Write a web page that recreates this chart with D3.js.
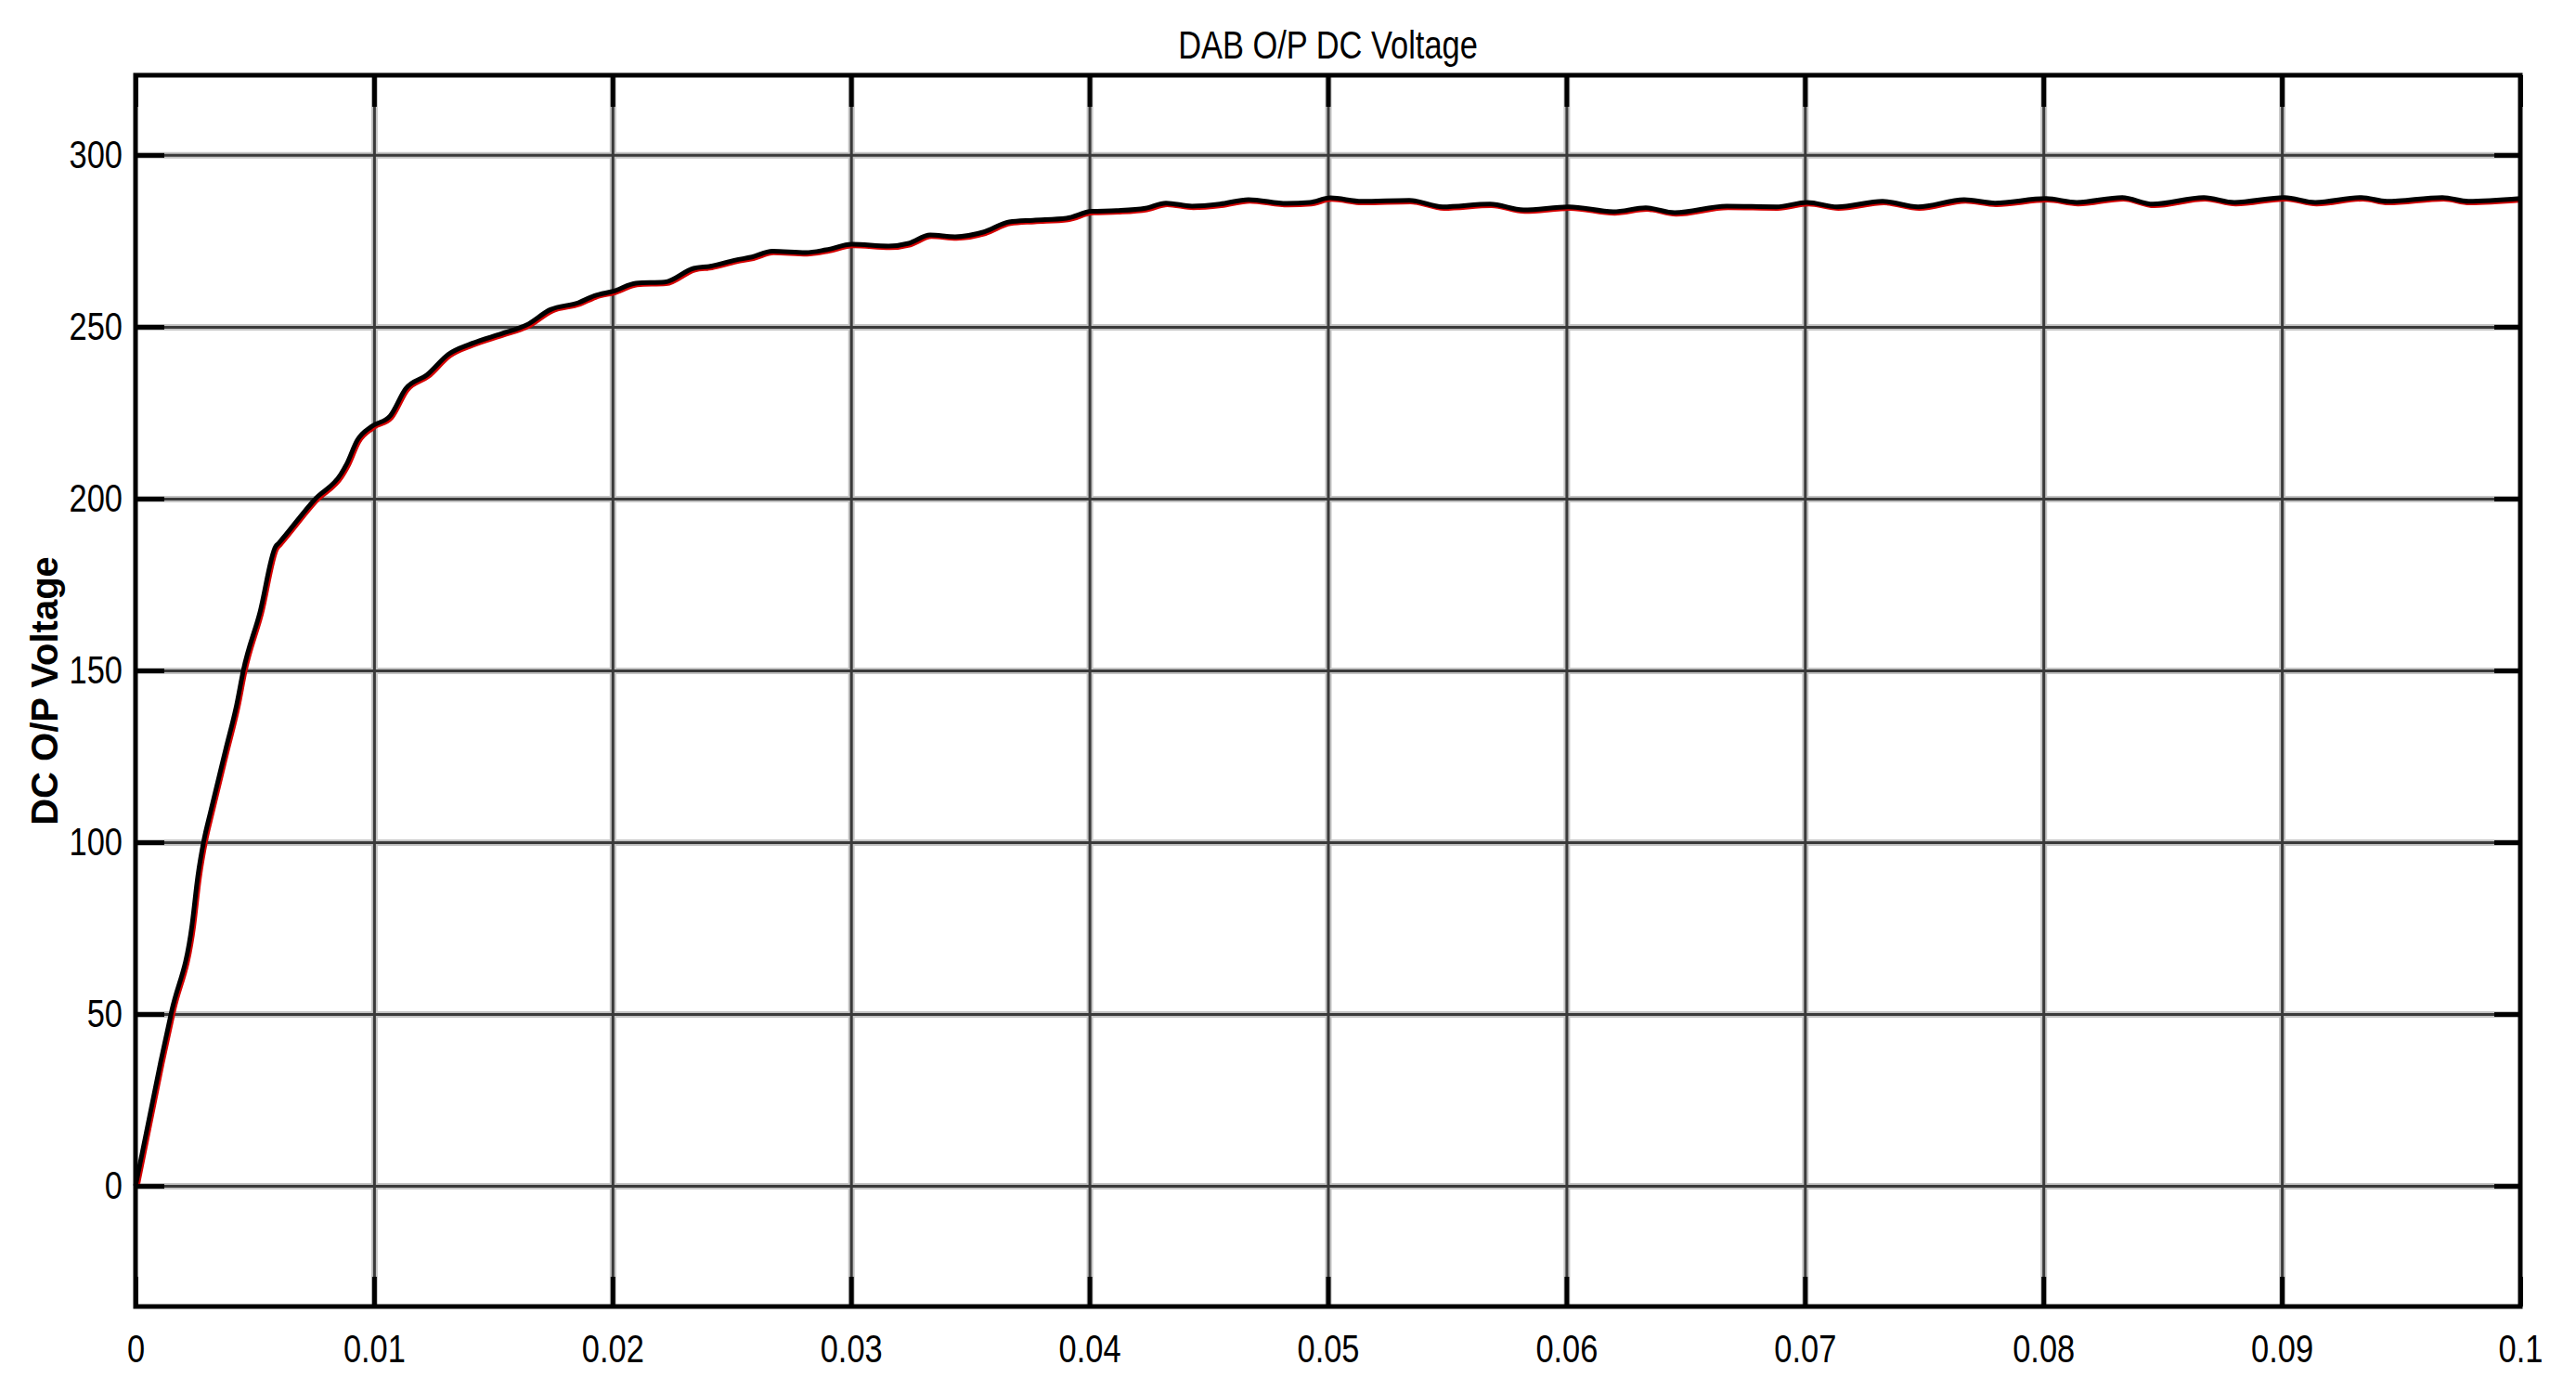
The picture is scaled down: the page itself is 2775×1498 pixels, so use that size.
<!DOCTYPE html>
<html>
<head>
<meta charset="utf-8">
<script src="https://cdn.jsdelivr.net/npm/d3@7.9.0/dist/d3.min.js"></script>
<style>
  html, body { margin: 0; padding: 0; background: #fff; }
  svg { display: block; }
  text { font-family: "Liberation Sans", Arial, sans-serif; }
</style>
</head>
<body>
<svg id="chart" width="2775" height="1498"></svg>
<script>
// time (s)
const timeS = [
  0, 0.00105, 0.00152, 0.00237, 0.00261, 0.00288, 0.00315, 0.00378, 0.00424, 0.00452,
  0.00522, 0.00587, 0.006, 0.00755, 0.0086, 0.00885, 0.0093, 0.0099, 0.01067, 0.01133,
  0.01222, 0.01312, 0.01405, 0.01534, 0.01639, 0.0174, 0.01857, 0.01923, 0.0201, 0.02098,
  0.02219, 0.0234, 0.0241, 0.02515, 0.02585, 0.0267, 0.0281, 0.02896, 0.03005, 0.03157,
  0.03243, 0.03332, 0.03437, 0.03558, 0.03663, 0.03764, 0.03904, 0.0401, 0.04114, 0.04235,
  0.04321, 0.0443, 0.04547, 0.04667, 0.04827, 0.04924, 0.0501, 0.05142, 0.05341, 0.05481,
  0.0568, 0.0582, 0.0601, 0.06197, 0.06333, 0.06454, 0.06672, 0.0688, 0.0701, 0.07135,
  0.07326, 0.07474, 0.07668, 0.07797, 0.08011, 0.0814, 0.0833, 0.08459, 0.08673, 0.08801,
  0.09011, 0.0914, 0.09334, 0.0944, 0.09673, 0.09782, 0.1
];

// DC output voltage at each time
const voltage = [
  0, 36, 51, 76, 90, 101, 109, 127, 140, 150,
  167, 186, 187, 200, 207, 210, 217, 221, 224, 232,
  236, 242, 245, 248, 250.5, 255, 257, 259, 260.5, 262.7,
  263, 267, 267.6, 269.4, 270.3, 272, 271.6, 272.4, 274, 273.5,
  274.3, 276.7, 276.2, 277.6, 280.5, 281, 281.6, 283.6, 283.8, 284.5,
  286, 285.1, 285.7, 287, 285.9, 286.2, 287.5, 286.5, 286.8, 284.9,
  285.7, 284, 284.9, 283.5, 284.6, 283.2, 285.1, 284.9, 286.2, 284.9,
  286.5, 284.9, 287, 286, 287.3, 286.2, 287.6, 285.7, 287.6, 286.2,
  287.6, 286.2, 287.6, 286.5, 287.6, 286.5, 287.3
];

const xTicks = [0, 0.01, 0.02, 0.03, 0.04, 0.05, 0.06, 0.07, 0.08, 0.09, 0.1];
const xTickLabels = ["0", "0.01", "0.02", "0.03", "0.04", "0.05", "0.06", "0.07", "0.08", "0.09", "0.1"];
const yTicks = [0, 50, 100, 150, 200, 250, 300];

const titleText = "DAB O/P DC Voltage";
const yLabelText = "DC O/P Voltage";

// no narrow face installed, so squeeze the regular one
const squeeze = 0.82;

const margin = { top: 81, right: 60, bottom: 91, left: 146 };
const W = 2775, H = 1498;
const w = W - margin.left - margin.right;
const h = H - margin.top - margin.bottom;

const svg = d3.select("#chart");
const g = svg.append("g").attr("transform", `translate(${margin.left},${margin.top})`);

const x = d3.scaleLinear().domain([0, 0.1]).range([0, w]);
const y = d3.scaleLinear().domain([-35.1, 323.2]).range([h, 0]);

// grid lines: light halo under a dark core
function grid(sel, stroke, width) {
  sel.append("g")
    .call(d3.axisBottom(x).tickValues(xTicks.slice(1, -1)).tickSize(h).tickFormat(""))
    .call(a => a.select(".domain").remove())
    .selectAll("line").attr("stroke", stroke).attr("stroke-width", width);
  sel.append("g")
    .call(d3.axisLeft(y).tickValues(yTicks).tickSize(-w).tickFormat(""))
    .call(a => a.select(".domain").remove())
    .selectAll("line").attr("stroke", stroke).attr("stroke-width", width);
}
grid(g, "#c4c4c4", 7);
grid(g, "#3a3a3a", 3);

// the trace: red copy slightly offset under the black one
const data = timeS.map((t, i) => ({ t: t, v: voltage[i] }));
const line = d3.line().x(d => x(d.t)).y(d => y(d.v)).curve(d3.curveMonotoneX);

g.append("path").datum(data)
  .attr("d", line)
  .attr("fill", "none")
  .attr("stroke", "#d40000")
  .attr("stroke-width", 5.5)
  .attr("stroke-linejoin", "round")
  .attr("transform", "translate(1.5,1.5)");

g.append("path").datum(data)
  .attr("d", line)
  .attr("fill", "none")
  .attr("stroke", "#000")
  .attr("stroke-width", 5)
  .attr("stroke-linejoin", "round");

// axes with inward ticks
const fmt = d => xTickLabels[xTicks.indexOf(d)];

const xAxis = g.append("g")
  .attr("transform", `translate(0,${h})`)
  .call(d3.axisBottom(x).tickValues(xTicks).tickFormat(fmt).tickSizeInner(-32).tickSizeOuter(0).tickPadding(30));

const xTop = g.append("g")
  .call(d3.axisTop(x).tickValues(xTicks).tickFormat("").tickSizeInner(-34).tickSizeOuter(0));

const yAxis = g.append("g")
  .call(d3.axisLeft(y).tickValues(yTicks).tickSizeInner(-31).tickSizeOuter(0).tickPadding(14 / squeeze));

const yRight = g.append("g")
  .attr("transform", `translate(${w},0)`)
  .call(d3.axisRight(y).tickValues(yTicks).tickFormat("").tickSizeInner(-28).tickSizeOuter(0));

[xAxis, xTop, yAxis, yRight].forEach(a => {
  a.select(".domain").remove();
  a.selectAll(".tick line").attr("stroke", "#000").attr("stroke-width", 5);
  a.selectAll(".tick text")
    .attr("fill", "#000")
    .attr("font-size", 42)
    .attr("transform", `scale(${squeeze},1)`);
});

// frame
g.append("rect")
  .attr("width", w).attr("height", h)
  .attr("fill", "none")
  .attr("stroke", "#000")
  .attr("stroke-width", 5);

// title
svg.append("text")
  .attr("transform", `translate(${margin.left + w / 2},63) scale(${squeeze},1)`)
  .attr("text-anchor", "middle")
  .attr("font-size", 42)
  .attr("fill", "#000")
  .text(titleText);

// y label
svg.append("text")
  .attr("transform", `translate(62,${margin.top + h / 2}) rotate(-90)`)
  .attr("text-anchor", "middle")
  .attr("font-weight", "bold")
  .attr("font-size", 40)
  .attr("fill", "#000")
  .text(yLabelText);
</script>
</body>
</html>
